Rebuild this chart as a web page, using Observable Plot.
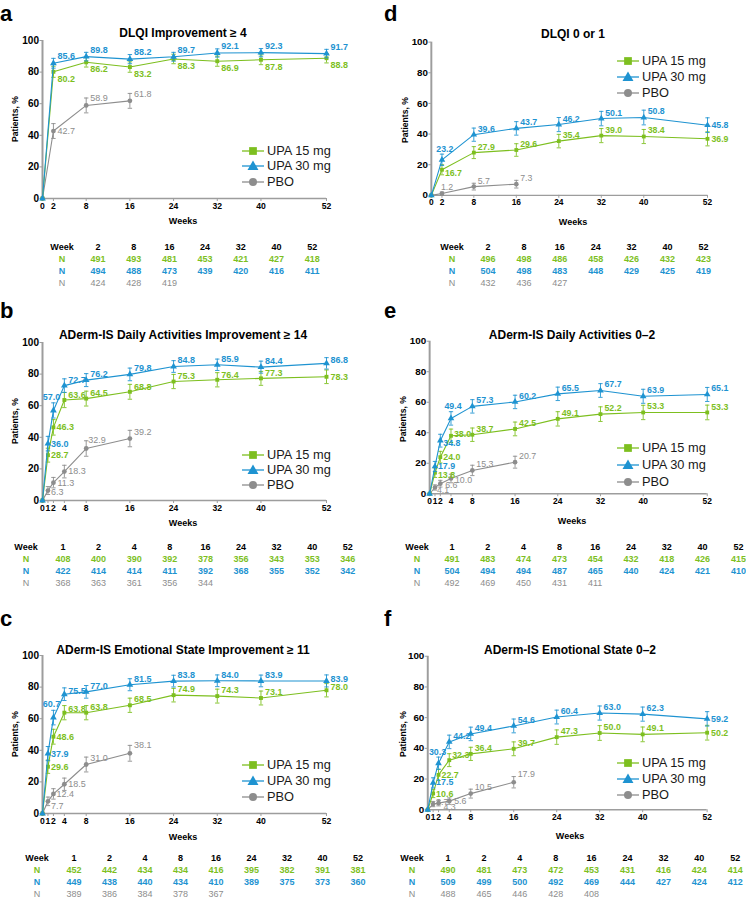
<!DOCTYPE html>
<html><head><meta charset="utf-8">
<script src="https://cdn.jsdelivr.net/npm/d3@7"></script>
<script src="https://cdn.jsdelivr.net/npm/@observablehq/plot@0.6"></script>
<style>
body{margin:0;background:#fff;}
#root{position:relative;width:746px;height:897px;overflow:hidden;font-family:"Liberation Sans",Arial,sans-serif;color:#000;}
.abs{position:absolute;white-space:nowrap;line-height:1;}
.ctr{transform:translate(-50%,-50%);}
svg{overflow:visible;}
</style></head>
<body><div id="root"></div>
<script>
// ---------- DATA ----------
const seriesNames = ["UPA 15 mg", "UPA 30 mg", "PBO"];
const weeksShort = [0, 2, 8, 16, 24, 32, 40, 52];
const weeksLong = [0, 1, 2, 4, 8, 16, 24, 32, 40, 52];
const pboWeeksShort = [0, 2, 8, 16];
const pboWeeksLong = [0, 1, 2, 4, 8, 16];

// a
const titleA = "DLQI Improvement ≥ 4";
const aUpa15 = [0, 80.2, 86.2, 83.2, 88.3, 86.9, 87.8, 88.8];
const aUpa15Ci = [0, 3.5, 3.0, 3.3, 3.0, 3.2, 3.1, 3.0];
const aUpa30 = [0, 85.6, 89.8, 88.2, 89.7, 92.1, 92.3, 91.7];
const aUpa30Ci = [0, 3.1, 2.7, 2.9, 2.8, 2.6, 2.6, 2.7];
const aPbo = [0, 42.7, 58.9, 61.8];
const aPboCi = [0, 4.7, 4.7, 4.7];
const aN15 = [491, 493, 481, 453, 421, 427, 418];
const aN30 = [494, 488, 473, 439, 420, 416, 411];
const aNPbo = [424, 428, 419];

// d
const titleD = "DLQI 0 or 1";
const dUpa15 = [0, 16.7, 27.9, 29.6, 35.4, 39.0, 38.4, 36.9];
const dUpa15Ci = [0, 3.3, 3.9, 4.1, 4.4, 4.6, 4.6, 4.6];
const dUpa30 = [0, 23.2, 39.6, 43.7, 46.2, 50.1, 50.8, 45.8];
const dUpa30Ci = [0, 3.7, 4.3, 4.4, 4.6, 4.7, 4.8, 4.8];
const dPbo = [0, 1.2, 5.7, 7.3];
const dPboCi = [0, 1.0, 2.2, 2.5];
const dN15 = [496, 498, 486, 458, 426, 432, 423];
const dN30 = [504, 498, 483, 448, 429, 425, 419];
const dNPbo = [432, 436, 427];

// b
const titleB = "ADerm-IS Daily Activities Improvement ≥ 14";
const bUpa15 = [0, 28.7, 46.3, 63.6, 64.5, 68.8, 75.3, 76.4, 77.3, 78.3];
const bUpa15Ci = [0, 4.4, 4.9, 4.8, 4.7, 4.7, 4.5, 4.5, 4.4, 4.3];
const bUpa30 = [0, 36.0, 57.0, 72.7, 76.2, 79.8, 84.8, 85.9, 84.4, 86.8];
const bUpa30Ci = [0, 4.6, 4.8, 4.3, 4.1, 4.0, 3.7, 3.6, 3.8, 3.6];
const bPbo = [0, 6.3, 11.3, 18.3, 32.9, 39.2];
const bPboCi = [0, 2.5, 3.3, 4.0, 4.9, 5.2];
const bN15 = [408, 400, 390, 392, 378, 356, 343, 353, 346];
const bN30 = [422, 414, 414, 411, 392, 368, 355, 352, 342];
const bNPbo = [368, 363, 361, 356, 344];

// e
const titleE = "ADerm-IS Daily Activities 0–2";
const eUpa15 = [0, 13.8, 24.0, 38.0, 38.7, 42.5, 49.1, 52.2, 53.3, 53.3];
const eUpa15Ci = [0, 3.1, 3.8, 4.4, 4.4, 4.5, 4.7, 4.8, 4.7, 4.8];
const eUpa30 = [0, 17.9, 34.8, 49.4, 57.3, 60.2, 65.5, 67.7, 63.9, 65.1];
const eUpa30Ci = [0, 3.3, 4.2, 4.4, 4.4, 4.4, 4.4, 4.5, 4.6, 4.6];
const ePbo = [0, 4.1, 6.6, 10.0, 15.3, 20.7];
const ePboCi = [0, 1.7, 2.2, 2.8, 3.4, 3.9];
const eN15 = [491, 483, 474, 473, 454, 432, 418, 426, 415];
const eN30 = [504, 494, 494, 487, 465, 440, 424, 421, 410];
const eNPbo = [492, 469, 450, 431, 411];

// c
const titleC = "ADerm-IS Emotional State Improvement ≥ 11";
const cUpa15 = [0, 29.6, 48.6, 63.8, 63.8, 68.5, 74.9, 74.3, 73.1, 78.0];
const cUpa15Ci = [0, 4.2, 4.7, 4.5, 4.5, 4.5, 4.3, 4.4, 4.4, 4.2];
const cUpa30 = [0, 37.9, 60.7, 75.5, 77.0, 81.5, 83.8, 84.0, 83.9, 83.9];
const cUpa30Ci = [0, 4.5, 4.6, 4.0, 4.0, 3.8, 3.7, 3.7, 3.7, 3.8];
const cPbo = [0, 7.7, 12.4, 18.5, 31.0, 38.1];
const cPboCi = [0, 2.7, 3.3, 3.9, 4.7, 5.0];
const cN15 = [452, 442, 434, 434, 416, 395, 382, 391, 381];
const cN30 = [449, 438, 440, 434, 410, 389, 375, 373, 360];
const cNPbo = [389, 386, 384, 378, 367];

// f
const titleF = "ADerm-IS Emotional State 0–2";
const fUpa15 = [0, 10.6, 22.7, 32.3, 36.4, 39.7, 47.3, 50.0, 49.1, 50.2];
const fUpa15Ci = [0, 2.7, 3.7, 4.2, 4.3, 4.5, 4.7, 4.8, 4.8, 4.8];
const fUpa30 = [0, 17.5, 30.3, 44.2, 49.4, 54.6, 60.4, 63.0, 62.3, 59.2];
const fUpa30Ci = [0, 3.3, 4.0, 4.4, 4.4, 4.5, 4.5, 4.6, 4.6, 4.7];
const fPbo = [0, 3.7, 4.3, 5.6, 10.5, 17.9];
const fPboCi = [0, 1.7, 1.8, 2.1, 2.9, 3.7];
const fN15 = [490, 481, 473, 472, 453, 431, 416, 424, 414];
const fN30 = [509, 499, 500, 492, 469, 444, 427, 424, 412];
const fNPbo = [488, 465, 446, 428, 408];

const yTicks = [0, 20, 40, 60, 80, 100];

// ---------- STYLE / LAYOUT ----------
const COLORS = {upa15: "#7dbf1f", upa30: "#1e93d1", pbo: "#8d8d8d"};
const AXIS_GREY = "#9d9d9d";

const panels = [
  {letter: "a", title: titleA, weeks: weeksShort, pboWeeks: pboWeeksShort,
   upa15: aUpa15, upa15Ci: aUpa15Ci, upa30: aUpa30, upa30Ci: aUpa30Ci, pbo: aPbo, pboCi: aPboCi,
   n15: aN15, n30: aN30, nPbo: aNPbo,
   L: {x0: 42, x1: 326, y0: 40, y1: 198, letterX: 0, letterY: 0, cx: 183, titleY: 33, ylabX: 15,
       weeksY: 221, legX: 242, legY: [151, 166, 182], tabY: 247, tabLabX: 62, tabX0: 98, tabStep: 35.7},
   def: {upa15: [4, 7], upa30: [4, -7], pbo: [4, -7]},
   pos: {"pbo:2": [4, 0]}},
  {letter: "d", title: titleD, weeks: weeksShort, pboWeeks: pboWeeksShort,
   upa15: dUpa15, upa15Ci: dUpa15Ci, upa30: dUpa30, upa30Ci: dUpa30Ci, pbo: dPbo, pboCi: dPboCi,
   n15: dN15, n30: dN30, nPbo: dNPbo,
   L: {x0: 432, x1: 715.5, y0: 41.7, y1: 199, letterX: 384, letterY: 0, cx: 573, titleY: 34, ylabX: 405,
       weeksY: 222, legX: 617, legY: [61, 77, 93], tabY: 247, tabLabX: 452, tabX0: 488, tabStep: 35.9},
   def: {upa15: [4, -6], upa30: [4, -6], pbo: [4, -6]},
   pos: {"upa30:2": [3, -11, "middle"], "upa30:52": [4, 0], "upa15:2": [3, 3], "upa15:52": [4, 0], "pbo:2": [-1, -6]}},
  {letter: "b", title: titleB, weeks: weeksLong, pboWeeks: pboWeeksLong,
   upa15: bUpa15, upa15Ci: bUpa15Ci, upa30: bUpa30, upa30Ci: bUpa30Ci, pbo: bPbo, pboCi: bPboCi,
   n15: bN15, n30: bN30, nPbo: bNPbo,
   L: {x0: 42, x1: 326, y0: 342, y1: 500, letterX: 0, letterY: 297, cx: 183, titleY: 335, ylabX: 15,
       weeksY: 523, legX: 242, legY: [455, 470, 485], tabY: 547, tabLabX: 26, tabX0: 63, tabStep: 35.6},
   def: {upa15: [4, -5], upa30: [4, -6], pbo: [4, -6]},
   pos: {"upa30:1": [3, 0], "upa30:2": [-2, -13, "middle"], "upa30:52": [4, -3],
         "upa15:1": [3, 0], "upa15:2": [3, 0], "upa15:52": [4, 0],
         "pbo:1": [3, 2], "pbo:2": [4, 0], "pbo:4": [4, 0], "pbo:8": [2, -8]}},
  {letter: "e", title: titleE, weeks: weeksLong, pboWeeks: pboWeeksLong,
   upa15: eUpa15, upa15Ci: eUpa15Ci, upa30: eUpa30, upa30Ci: eUpa30Ci, pbo: ePbo, pboCi: ePboCi,
   n15: eN15, n30: eN30, nPbo: eNPbo,
   L: {x0: 430, x1: 713, y0: 341, y1: 496.5, letterX: 384, letterY: 297, cx: 572, titleY: 335, ylabX: 403,
       weeksY: 521, legX: 617, legY: [448, 465, 482], tabY: 547, tabLabX: 417, tabX0: 452, tabStep: 35.8},
   def: {upa15: [4, -6], upa30: [4, -6], pbo: [4, -6]},
   pos: {"upa30:1": [3, 0], "upa30:2": [3, 3], "upa30:4": [2, -12, "middle"],
         "upa15:1": [3, 3], "upa15:2": [3, 0], "upa15:4": [3, -2], "upa15:52": [4, -5],
         "pbo:1": [2, 3], "pbo:2": [5, 1], "pbo:4": [4, 2]}},
  {letter: "c", title: titleC, weeks: weeksLong, pboWeeks: pboWeeksLong,
   upa15: cUpa15, upa15Ci: cUpa15Ci, upa30: cUpa30, upa30Ci: cUpa30Ci, pbo: cPbo, pboCi: cPboCi,
   n15: cN15, n30: cN30, nPbo: cNPbo,
   L: {x0: 42, x1: 326, y0: 655, y1: 813, letterX: 0, letterY: 605, cx: 183, titleY: 650, ylabX: 15,
       weeksY: 837, legX: 242, legY: [765, 781, 797], tabY: 858, tabLabX: 37, tabX0: 74, tabStep: 35.5},
   def: {upa15: [4, -6], upa30: [4, -6], pbo: [4, -6]},
   pos: {"upa30:1": [3, 0], "upa30:2": [-2, -13, "middle"], "upa30:4": [4, -3], "upa30:52": [4, -2],
         "upa15:1": [3, 0], "upa15:2": [3, 0], "upa15:4": [4, -4], "upa15:52": [4, -3],
         "pbo:1": [3, 5], "pbo:2": [3, 0], "pbo:4": [4, 0], "pbo:16": [4, -8]}},
  {letter: "f", title: titleF, weeks: weeksLong, pboWeeks: pboWeeksLong,
   upa15: fUpa15, upa15Ci: fUpa15Ci, upa30: fUpa30, upa30Ci: fUpa30Ci, pbo: fPbo, pboCi: fPboCi,
   n15: fN15, n30: fN30, nPbo: fNPbo,
   L: {x0: 428, x1: 712, y0: 655.7, y1: 811.7, letterX: 384, letterY: 605, cx: 570, titleY: 650, ylabX: 403,
       weeksY: 836, legX: 617, legY: [763, 779, 795], tabY: 858, tabLabX: 412, tabX0: 448, tabStep: 35.9},
   def: {upa15: [4, -6], upa30: [4, -6], pbo: [4, -6]},
   pos: {"upa30:1": [3, -1], "upa30:2": [-1, -11, "middle"], "upa30:52": [4, 0],
         "upa15:1": [3, 1], "upa15:2": [3, 0], "upa15:4": [3, -5], "upa15:52": [4, 0],
         "pbo:1": [3, -2], "pbo:2": [5, 4], "pbo:4": [5, 0], "pbo:8": [4, -7], "pbo:16": [4, -8]}}
];

const capSymbol = {draw(ctx, size) { const r = Math.sqrt(size / Math.PI); ctx.moveTo(-r, 0); ctx.lineTo(r, 0); }};

const root = document.getElementById("root");
function addDiv(text, left, top, style, cls) {
  const d = document.createElement("div");
  d.className = "abs" + (cls ? " " + cls : "");
  d.textContent = text;
  d.style.left = left + "px";
  d.style.top = top + "px";
  Object.assign(d.style, style || {});
  root.appendChild(d);
  return d;
}

function drawPanel(p) {
  const L = p.L;
  const ml = 45, mt = 14, mr = 40, mb = 24;
  const width = (L.x1 - L.x0) + ml + mr;
  const height = (L.y1 - L.y0) + mt + mb;
  const series = [
    {key: "pbo", weeks: p.pboWeeks, values: p.pbo, ci: p.pboCi, symbol: "circle", r: 2.4, bold: false},
    {key: "upa15", weeks: p.weeks, values: p.upa15, ci: p.upa15Ci, symbol: "square", r: 2.2, bold: true},
    {key: "upa30", weeks: p.weeks, values: p.upa30, ci: p.upa30Ci, symbol: "triangle", r: 2.5, bold: true}
  ];
  const marks = [
    Plot.axisX({ticks: p.weeks, tickSize: 3, tickPadding: 1, stroke: AXIS_GREY, fill: "#000",
                fontWeight: "bold", fontSize: 8.6, label: null, tickFormat: d => String(d)}),
    Plot.axisY({ticks: yTicks, tickSize: 2.5, tickPadding: 1, stroke: AXIS_GREY, fill: "#000",
                fontWeight: "bold", fontSize: 10, label: null, tickFormat: d => String(d)}),
    Plot.ruleY([0], {stroke: AXIS_GREY, strokeWidth: 1.5}),
    Plot.ruleX([0], {stroke: AXIS_GREY, strokeWidth: 2})
  ];
  for (const s of series) {
    const rows = s.weeks.map((w, i) => ({week: w, value: s.values[i], ci: s.ci[i]}));
    const withCi = rows.filter(d => d.ci > 0);
    const col = COLORS[s.key];
    marks.push(Plot.line(rows, {x: "week", y: "value", stroke: col, strokeWidth: 1.1}));
    marks.push(Plot.ruleX(withCi, {x: "week", y1: d => d.value - d.ci, y2: d => d.value + d.ci, stroke: col, strokeWidth: 0.9}));
    marks.push(Plot.dot(withCi, {x: "week", y: d => d.value + d.ci, symbol: capSymbol, r: 2.2, stroke: col, strokeWidth: 0.9}));
    marks.push(Plot.dot(withCi, {x: "week", y: d => d.value - d.ci, symbol: capSymbol, r: 2.2, stroke: col, strokeWidth: 0.9}));
    marks.push(Plot.dot(rows, {x: "week", y: "value", symbol: s.symbol, r: s.r, fill: col, stroke: "none"}));
  }
  for (const s of series) {
    const col = COLORS[s.key];
    s.weeks.forEach((w, i) => {
      if (w === 0) return;
      const o = p.pos[s.key + ":" + w] || p.def[s.key];
      marks.push(Plot.text([{week: w, value: s.values[i]}], {
        x: "week", y: "value", text: d => d.value.toFixed(1),
        dx: o[0], dy: o[1], textAnchor: o[2] || "start",
        fill: col, fontWeight: s.bold ? "bold" : "normal", fontSize: 9
      }));
    });
  }
  const chart = Plot.plot({
    width, height, marginLeft: ml, marginRight: mr, marginTop: mt, marginBottom: mb,
    x: {domain: [0, 52], axis: null},
    y: {domain: [0, 100], axis: null},
    style: {fontFamily: "'Liberation Sans', Arial, sans-serif", overflow: "visible", background: "transparent"},
    marks
  });
  const wrap = document.createElement("div");
  wrap.className = "abs";
  wrap.style.left = (L.x0 - ml) + "px";
  wrap.style.top = (L.y0 - mt) + "px";
  wrap.appendChild(chart);
  root.appendChild(wrap);

  // letter, title, axis labels
  addDiv(p.letter, L.letterX, L.letterY + 0.5, {fontSize: "22px", fontWeight: "bold", lineHeight: "25px"});
  addDiv(p.title, L.cx, L.titleY, {fontSize: "12px", fontWeight: "bold"}, "ctr");
  const yl = addDiv("Patients, %", L.ylabX, (L.y0 + L.y1) / 2, {fontSize: "8.6px", fontWeight: "bold"});
  yl.style.transform = "translate(-50%,-50%) rotate(-90deg)";
  addDiv("Weeks", L.cx, L.weeksY, {fontSize: "9px", fontWeight: "bold"}, "ctr");

  // legend
  const syms = {upa15: "square", upa30: "triangle", pbo: "circle"};
  ["upa15", "upa30", "pbo"].forEach((k, i) => {
    const col = COLORS[k];
    const ns = "http://www.w3.org/2000/svg";
    const svg = document.createElementNS(ns, "svg");
    svg.setAttribute("width", 22); svg.setAttribute("height", 14);
    svg.style.position = "absolute";
    svg.style.left = L.legX + "px";
    svg.style.top = (L.legY[i] - 7) + "px";
    const ln = document.createElementNS(ns, "line");
    ln.setAttribute("x1", 0); ln.setAttribute("x2", 22); ln.setAttribute("y1", 7); ln.setAttribute("y2", 7);
    ln.setAttribute("stroke", col); ln.setAttribute("stroke-width", 1.3);
    svg.appendChild(ln);
    const path = document.createElementNS(ns, "path");
    const sym = {square: d3.symbolSquare, triangle: d3.symbolTriangle, circle: d3.symbolCircle}[syms[k]];
    const size = {square: 60, triangle: 52, circle: 50}[syms[k]];
    path.setAttribute("d", d3.symbol(sym, size)());
    path.setAttribute("transform", "translate(11," + (syms[k] === "triangle" ? 7.8 : 7) + ")");
    path.setAttribute("fill", col);
    svg.appendChild(path);
    root.appendChild(svg);
    addDiv(seriesNames[i], L.legX + 25, L.legY[i] - 7, {fontSize: "12.8px", color: "#1a1a1a", lineHeight: "14px"});
  });

  // N table
  const tabWeeks = p.weeks.filter(w => w !== 0);
  const rowStyle = (c, b) => ({fontSize: "9px", fontWeight: b ? "bold" : "normal", color: c});
  addDiv("Week", L.tabLabX, L.tabY, rowStyle("#000", true), "ctr");
  tabWeeks.forEach((w, j) => addDiv(String(w), L.tabX0 + j * L.tabStep, L.tabY, rowStyle("#000", true), "ctr"));
  const nRows = [[p.n15, COLORS.upa15, true], [p.n30, COLORS.upa30, true], [p.nPbo, COLORS.pbo, false]];
  nRows.forEach(([arr, c, b], r) => {
    const y = L.tabY + 12 * (r + 1);
    addDiv("N", L.tabLabX, y, rowStyle(c, b), "ctr");
    arr.forEach((n, j) => addDiv(String(n), L.tabX0 + j * L.tabStep, y, rowStyle(c, b), "ctr"));
  });
}

panels.forEach(drawPanel);
</script>
</body></html>
